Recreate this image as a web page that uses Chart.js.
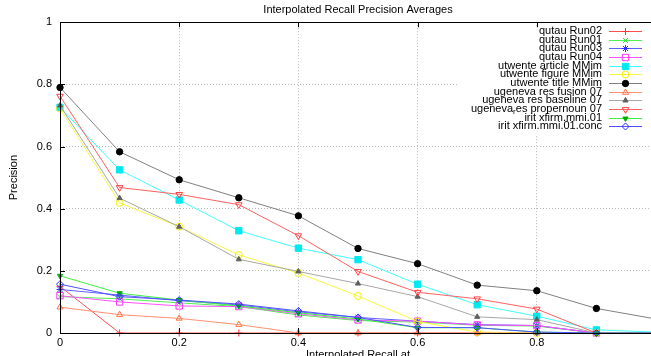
<!DOCTYPE html>
<html>
<head>
<meta charset="utf-8">
<script src="https://cdn.jsdelivr.net/npm/chart.js@4.4.0/dist/chart.umd.min.js"></script>
<style>
html, body { margin: 0; padding: 0; overflow: hidden; background: #fff; }
canvas { display: block; }
</style>
</head>
<body>
<canvas id="recallPrecisionChart" width="670" height="372"></canvas>
<script>
// recall levels on the x axis
var recallLevels = [0, 0.1, 0.2, 0.3, 0.4, 0.5, 0.6, 0.7, 0.8, 0.9, 1.0];

// precision values, one array per run
var qutauRun02 = [0.15, 0, 0, 0, 0, 0, 0, 0, 0, 0, 0];
var qutauRun01 = [0.117, 0.11, 0.097, 0.085, 0.058, 0.04, 0.035, 0.025, 0.022, 0, 0];
var qutauRun03 = [0.14, 0.122, 0.104, 0.09, 0.068, 0.05, 0.038, 0.027, 0.024, 0, 0];
var qutauRun04 = [0.12, 0.1, 0.087, 0.085, 0.062, 0.042, 0.038, 0.026, 0.024, 0, 0];
var utwenteArticle = [0.726, 0.525, 0.428, 0.329, 0.273, 0.236, 0.157, 0.091, 0.054, 0.01, 0.003];
var utwenteFigure = [0.722, 0.419, 0.342, 0.251, 0.193, 0.119, 0.037, 0.003, 0, 0, 0];
var utwenteTitle = [0.79, 0.583, 0.493, 0.435, 0.377, 0.272, 0.223, 0.154, 0.136, 0.079, 0.045];
var ugenevaFusion = [0.083, 0.059, 0.047, 0.027, 0, 0, 0, 0, 0, 0, 0];
var ugenevaBaseline = [0.732, 0.434, 0.342, 0.237, 0.198, 0.159, 0.117, 0.052, 0.043, 0, 0];
var ugenevaPropernoun = [0.762, 0.468, 0.446, 0.413, 0.313, 0.198, 0.131, 0.11, 0.077, 0, 0];
var iritXfirm = [0.184, 0.128, 0.106, 0.087, 0.065, 0.045, 0.017, 0.017, 0.003, 0, 0];
var iritXfirmConc = [0.157, 0.117, 0.106, 0.093, 0.071, 0.05, 0.018, 0.017, 0.003, 0, 0];

var runLabels = [
    'qutau Run02', 'qutau Run01', 'qutau Run03', 'qutau Run04',
    'utwente article MMim', 'utwente figure MMim', 'utwente title MMim',
    'ugeneva res fusion 07', 'ugeneva res baseline 07', 'ugeneva_res propernoun 07',
    'irit xfirm.mmi.01', 'irit xfirm.mmi.01.conc'
];

var yTicks = [0, 0.2, 0.4, 0.6, 0.8, 1];
var xTicks = [0, 0.2, 0.4, 0.6, 0.8, 1];

var runValues = [qutauRun02, qutauRun01, qutauRun03, qutauRun04, utwenteArticle, utwenteFigure,
    utwenteTitle, ugenevaFusion, ugenevaBaseline, ugenevaPropernoun, iritXfirm, iritXfirmConc];

// line colour, marker colour, marker style, filled?, rotation, radius
var runStyles = [
    ['#ff5050', '#ff3030', 'cross', false, 0, 3.5],
    ['#50f050', '#30e030', 'crossRot', false, 0, 3.5],
    ['#6060ff', '#3030ff', 'star', false, 0, 3.5],
    ['#ff50ff', '#ff30ff', 'rect', false, 0, 4.5],
    ['#40ffff', '#00e8f0', 'rect', true, 0, 4.5],
    ['#f8f840', '#f0f000', 'circle', false, 0, 3.5],
    ['#808080', '#000000', 'circle', true, 0, 3.2],
    ['#ff9070', '#ff7040', 'triangle', false, 0, 3.5],
    ['#a8a8a8', '#606060', 'triangle', true, 0, 3],
    ['#ff6060', '#ff4040', 'triangle', false, 180, 3.8],
    ['#40f040', '#00b000', 'triangle', true, 180, 3],
    ['#5050ff', '#3030ff', 'rectRot', false, 0, 3.5]
];

var FONT = '"Liberation Sans", Arial, sans-serif';

function buildDatasets() {
    var sets = [];
    for (var i = 0; i < runValues.length; i++) {
        var pts = [];
        for (var j = 0; j < recallLevels.length; j++) {
            pts.push({ x: recallLevels[j], y: runValues[i][j] });
        }
        var s = runStyles[i];
        sets.push({
            label: runLabels[i],
            data: pts,
            borderColor: s[0],
            borderWidth: 1,
            pointStyle: s[2],
            pointRotation: s[4],
            pointRadius: s[5],
            pointBorderColor: s[1],
            pointBackgroundColor: s[3] ? s[1] : 'rgba(0,0,0,0)',
            pointBorderWidth: 1,
            tension: 0,
            fill: false,
            clip: false,
            order: runValues.length - i
        });
    }
    return sets;
}

// gnuplot style frame with inward ticks and key
var framePlugin = {
    id: 'gnuplotFrame',
    beforeDatasetsDraw(chart) {
        // opaque key box
        var ctx = chart.ctx;
        ctx.save();
        ctx.fillStyle = '#fff';
        ctx.fillRect(458, 27, 192, 109);
        ctx.restore();
    },
    afterDatasetsDraw(chart) {
        var ctx = chart.ctx;
        var a = chart.chartArea;
        var xs = chart.scales.x, ys = chart.scales.y;
        ctx.save();
        ctx.strokeStyle = '#000';
        ctx.lineWidth = 1;
        ctx.strokeRect(Math.round(a.left) + 0.5, Math.round(a.top) + 0.5,
            Math.round(a.right - a.left), Math.round(a.bottom - a.top));
        ctx.beginPath();
        xTicks.forEach(function (v) {
            var px = Math.round(xs.getPixelForValue(v)) + 0.5;
            ctx.moveTo(px, a.bottom); ctx.lineTo(px, a.bottom - 5);
            ctx.moveTo(px, a.top); ctx.lineTo(px, a.top + 5);
        });
        yTicks.forEach(function (v) {
            var py = Math.round(ys.getPixelForValue(v)) + 0.5;
            ctx.moveTo(a.left, py); ctx.lineTo(a.left + 5, py);
            ctx.moveTo(a.right, py); ctx.lineTo(a.right - 5, py);
        });
        ctx.stroke();
        ctx.restore();
    },
    afterDraw(chart) {
        var ctx = chart.ctx;
        var textRight = 602, lineLeft = 609, lineRight = 642, top = 31, step = 8.65;
        ctx.save();
        ctx.textBaseline = 'middle';
        chart.data.datasets.forEach(function (ds, i) {
            var y = top + i * step;
            // "_x" is drawn as a subscript, like gnuplot enhanced text
            var parts = ds.label.split('_');
            var pieces = [{ t: parts[0], sub: false }];
            for (var k = 1; k < parts.length; k++) {
                pieces.push({ t: parts[k].charAt(0), sub: true });
                pieces.push({ t: parts[k].slice(1), sub: false });
            }
            var total = 0;
            pieces.forEach(function (p) {
                ctx.font = (p.sub ? '8px ' : '11px ') + FONT;
                p.w = ctx.measureText(p.t).width;
                total += p.w;
            });
            var x = textRight - total;
            ctx.fillStyle = '#000';
            ctx.textAlign = 'left';
            pieces.forEach(function (p) {
                ctx.font = (p.sub ? '8px ' : '11px ') + FONT;
                ctx.fillText(p.t, x, p.sub ? y + 3 : y);
                x += p.w;
            });
            ctx.strokeStyle = ds.borderColor;
            ctx.lineWidth = 1;
            ctx.beginPath();
            ctx.moveTo(lineLeft, Math.round(y) + 0.5);
            ctx.lineTo(lineRight, Math.round(y) + 0.5);
            ctx.stroke();
            ctx.strokeStyle = ds.pointBorderColor;
            ctx.fillStyle = ds.pointBackgroundColor;
            Chart.helpers.drawPoint(ctx, {
                pointStyle: ds.pointStyle,
                rotation: ds.pointRotation,
                radius: ds.pointRadius,
                borderWidth: 1
            }, (lineLeft + lineRight) / 2, Math.round(y) + 0.5);
        });
        ctx.restore();
    }
};

Chart.defaults.font.family = FONT;
Chart.defaults.font.size = 11;
Chart.defaults.color = '#000';

var ctxNode = document.getElementById('recallPrecisionChart');

new Chart(ctxNode, {
    type: 'line',
    data: { datasets: buildDatasets() },
    plugins: [framePlugin],
    options: {
        responsive: false,
        animation: false,
        devicePixelRatio: 1,
        layout: { padding: { left: 0, right: 14, top: 0, bottom: 9 } },
        plugins: {
            legend: { display: false },
            tooltip: { enabled: false },
            title: {
                display: true,
                fullSize: false,
                text: 'Interpolated Recall Precision Averages',
                font: { size: 11, weight: 'normal', lineHeight: 1.2 },
                padding: { top: 3, bottom: 6 }
            }
        },
        scales: {
            x: {
                type: 'linear',
                min: 0,
                max: 1,
                afterFit: function (scale) { scale.height = 30; },
                afterBuildTicks: function (scale) {
                    scale.ticks = xTicks.map(function (v) { return { value: v }; });
                },
                ticks: {
                    padding: 3,
                    maxRotation: 0,
                    callback: function (v) { return String(Math.round(v * 10) / 10); }
                },
                grid: { color: '#b8b8b8', lineWidth: 1, drawTicks: false },
                border: { display: false, dash: [1, 2] },
                title: {
                    display: true,
                    text: 'Interpolated Recall at',
                    font: { size: 11 },
                    padding: { top: 0, bottom: 1 }
                }
            },
            y: {
                min: 0,
                max: 1,
                afterFit: function (scale) { scale.width = 60; },
                afterBuildTicks: function (scale) {
                    scale.ticks = yTicks.map(function (v) { return { value: v }; });
                },
                ticks: {
                    padding: 8,
                    callback: function (v) { return String(Math.round(v * 10) / 10); }
                },
                grid: { color: '#b8b8b8', lineWidth: 1, drawTicks: false },
                border: { display: false, dash: [1, 2] },
                title: {
                    display: true,
                    text: 'Precision',
                    font: { size: 11 },
                    padding: { top: 7, bottom: 0 }
                }
            }
        }
    }
});
</script>
</body>
</html>
